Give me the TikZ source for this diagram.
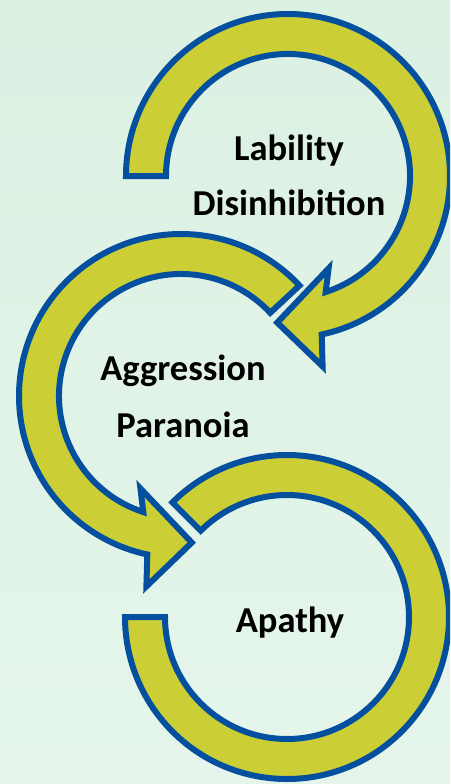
\documentclass[tikz,border=0pt]{standalone}
\usepackage{fontspec}
\setmainfont{Carlito}
\usetikzlibrary{calc}
\definecolor{bgtop}{RGB}{219,241,226}
\definecolor{bgbot}{RGB}{229,245,235}
\definecolor{ringfill}{RGB}{204,206,53}
\definecolor{ringline}{RGB}{4,80,158}
\tikzset{
  ring/.style={fill=ringfill, draw=ringline, line width=6pt, line join=miter, miter limit=6},
  lab/.style={anchor=base, inner sep=0pt, text=black, font=\fontsize{36.5}{40}\selectfont\bfseries}
}
\begin{document}
\begin{tikzpicture}[x=1pt,y=1pt]
\useasboundingbox (0,0) rectangle (450,-784);
\clip (0,0) rectangle (450,-784);
\shade[top color=bgtop, bottom color=bgbot] (0,0) rectangle (450,-784);
\coordinate (c1) at (288,-176);
\coordinate (c2) at (181,-396);
\coordinate (c3) at (287,-617);
% top arrow
\draw[ring] ($(c1)+(180:162)$) arc[start angle=180, end angle=-78, radius=162]
  -- ($(c1)+(-79.7:193.5)$) -- ($(c1)+(-94.2:147)$) -- ($(c1)+(-66.3:101)$)
  -- ($(c1)+(-72:122)$) arc[start angle=-72, end angle=180, radius=122] -- cycle;
% middle arrow
\draw[ring] ($(c2)+(43:162)$) arc[start angle=43, end angle=258, radius=162]
  -- ($(c2)+(259.7:193.5)$) -- ($(c2)+(274.2:147)$) -- ($(c2)+(246.3:101)$)
  -- ($(c2)+(252:122)$) arc[start angle=252, end angle=43, radius=122] -- cycle;
% bottom arrow
\draw[ring] ($(c3)+(135:162)$) arc[start angle=135, end angle=-180, radius=162]
  -- ($(c3)+(-180:122)$) arc[start angle=-180, end angle=135, radius=122] -- cycle;
% labels
\node[lab] (t1) at (289,-160) {Lability};
\node[lab] (t2) at (289,-215) {Disinhibition};
\node[lab] (t3) at (183,-380) {Aggression};
\node[lab] (t4) at (183,-437) {Paranoia};
\node[lab] (t5) at (290,-632) {Apathy};
\end{tikzpicture}
\end{document}
